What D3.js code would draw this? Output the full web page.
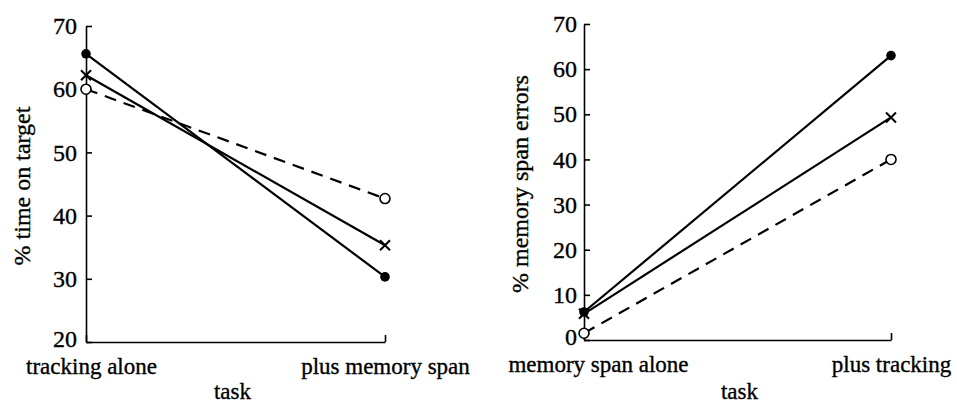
<!DOCTYPE html>
<html>
<head>
<meta charset="utf-8">
<script src="https://cdn.jsdelivr.net/npm/d3@7"></script>
<style>
  body { margin: 0; background: #fff; }
  svg { display: block; }
  svg text { font-family: "Liberation Serif", "DejaVu Serif", serif; fill: #000; stroke: #000; stroke-width: 0.35; }
</style>
</head>
<body>
<svg id="chart" width="957" height="404"></svg>
<script>
// left panel: tracking performance
const trackCategories = ['tracking alone', 'plus memory span'];
const trackTicks = [20, 30, 40, 50, 60, 70];
const trackFilled = [65.6, 30.3];
const trackCross = [62.2, 35.3];
const trackOpen = [60.0, 42.7];

// right panel: memory span errors
const spanCategories = ['memory span alone', 'plus tracking'];
const spanTicks = [0, 10, 20, 30, 40, 50, 60, 70];
const spanFilled = [6.2, 63.0];
const spanCross = [5.8, 49.3];
const spanOpen = [1.5, 40.0];

const svg = d3.select('#chart');

/**
 * draw one panel
 */
const drawPanel = (opts) => {
    const g = svg.append('g');

    const x = d3.scalePoint()
        .domain(opts.categories)
        .range([opts.left, opts.right]);

    const y = d3.scaleLinear()
        .domain(d3.extent(opts.ticks))
        .range([opts.bottom, opts.top]);

    // y axis, ticks inside
    const yAxis = g.append('g')
        .attr('transform', `translate(${opts.left},0)`)
        .call(d3.axisLeft(y)
            .tickValues(opts.ticks)
            .tickSizeInner(-6)
            .tickSizeOuter(0)
            .tickPadding(opts.tickPad));

    yAxis.attr('font-family', null);
    yAxis.selectAll('text')
        .attr('font-size', 24)
        .attr('dy', (d, i) => i === 0 ? '0.2em' : '0.32em');

    // x axis, end tick pointing up
    const xAxis = g.append('g')
        .attr('transform', `translate(0,${opts.bottom})`)
        .call(d3.axisBottom(x)
            .tickSizeInner(-7)
            .tickSizeOuter(0)
            .tickPadding(16));

    xAxis.attr('font-family', null);
    xAxis.selectAll('text')
        .attr('font-size', 23)
        .attr('dx', (d, i) => i === 0 ? opts.firstShift : 0);

    g.selectAll('.domain, .tick line')
        .attr('stroke', '#000')
        .attr('stroke-width', 1.6);

    // axis titles
    g.append('text')
        .attr('x', (opts.left + opts.right) / 2 + opts.taskShift)
        .attr('y', 399)
        .attr('text-anchor', 'middle')
        .attr('font-size', 23)
        .text('task');

    g.append('text')
        .attr('transform', `translate(${opts.titleX},${(opts.top + opts.bottom) / 2 + 2}) rotate(-90)`)
        .attr('text-anchor', 'middle')
        .attr('font-size', 24)
        .text(opts.yTitle);

    const line = d3.line()
        .x((d, i) => x(opts.categories[i]))
        .y(d => y(d));

    const series = [
        { values: opts.filled, dash: null, marker: 'filled' },
        { values: opts.cross, dash: null, marker: 'cross' },
        { values: opts.open, dash: '12,8', marker: 'open' }
    ];

    series.forEach(s => {
        g.append('path')
            .datum(s.values)
            .attr('d', line)
            .attr('fill', 'none')
            .attr('stroke', '#000')
            .attr('stroke-width', 2.2)
            .attr('stroke-dasharray', s.dash);
    });

    series.forEach(s => {
        const pts = g.selectAll(null)
            .data(s.values)
            .enter()
            .append('g')
            .attr('transform', (d, i) => `translate(${x(opts.categories[i])},${y(d)})`);

        if (s.marker === 'filled') {
            pts.append('circle')
                .attr('r', 4.8)
                .attr('fill', '#000');
        } else if (s.marker === 'open') {
            pts.append('circle')
                .attr('r', 5)
                .attr('fill', '#fff')
                .attr('stroke', '#000')
                .attr('stroke-width', 1.6);
        } else {
            pts.append('path')
                .attr('d', 'M-5,-5L5,5M5,-5L-5,5')
                .attr('stroke', '#000')
                .attr('stroke-width', 2);
        }
    });
};

drawPanel({
    categories: trackCategories,
    ticks: trackTicks,
    filled: trackFilled,
    cross: trackCross,
    open: trackOpen,
    left: 86,
    right: 385,
    top: 26,
    bottom: 342,
    tickPad: 9,
    firstShift: 5,
    taskShift: -3,
    titleX: 30,
    yTitle: '% time on target'
});

drawPanel({
    categories: spanCategories,
    ticks: spanTicks,
    filled: spanFilled,
    cross: spanCross,
    open: spanOpen,
    left: 584,
    right: 891,
    top: 24,
    bottom: 340,
    tickPad: 7,
    firstShift: 14,
    taskShift: 2,
    titleX: 528,
    yTitle: '% memory span errors'
});
</script>
</body>
</html>
